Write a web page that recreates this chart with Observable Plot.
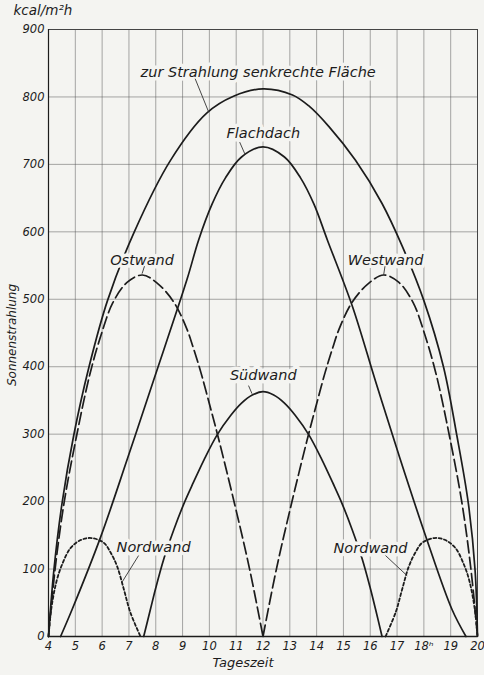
<!DOCTYPE html>
<html>
<head>
<meta charset="utf-8">
<script src="https://cdn.jsdelivr.net/npm/d3@7"></script>
<script src="https://cdn.jsdelivr.net/npm/@observablehq/plot@0.6"></script>
<style>
  html, body { margin: 0; padding: 0; background: #f4f4f1; }
  #chart { width: 484px; height: 675px; overflow: hidden; }
</style>
</head>
<body>
<div id="chart"></div>
<script>
// ---- Data (hour of day, kcal/m²h) ----
const senkrechte = [[4,0],[4.2,98],[4.51,199],[4.94,298],[5.5,398],[6.2,498],[7.2,600],[8.55,706],[9.9,776],[10.9,801],[12.0,812],[13.1,803],[13.7,787],[14.46,756],[15.45,706],[16.44,642],[17.2,578],[18.0,498],[18.73,400],[19.23,298],[19.66,197],[19.91,98],[20,0]];
const flachdach = [[4.45,0],[4.88,40],[5.94,147],[6.93,262],[7.92,380],[9.17,530],[9.6,588],[10.1,641],[10.6,680],[11.2,711],[12.0,726],[12.8,711],[13.4,680],[13.9,641],[14.4,588],[15.33,490],[16.2,378],[17.1,265],[18.1,145],[19.05,40],[19.57,0]];
const ostwand = [[4,0],[4.24,98],[4.58,198],[5.05,298],[5.55,390],[6.0,452],[6.4,495],[6.93,525],[7.5,536],[8.05,524],[8.67,496],[9.17,455],[9.4,428],[9.68,392],[10.0,345],[10.3,300],[10.95,195],[11.5,100],[12,0]];
const westwand = [[12,0],[12.5,100],[13.05,195],[13.7,300],[14.0,345],[14.32,392],[14.6,428],[14.83,455],[15.33,496],[15.95,524],[16.5,536],[17.07,525],[17.6,495],[18.0,452],[18.45,390],[18.95,298],[19.42,198],[19.76,98],[20,0]];
const suedwand = [[7.55,0],[7.8,40],[8.0,72],[8.3,115],[8.67,158],[9.04,196],[9.4,228],[9.8,262],[10.29,299],[10.8,328],[11.2,346],[11.6,358],[12.0,363],[12.4,358],[12.8,346],[13.2,328],[13.71,299],[14.2,262],[14.6,228],[14.96,196],[15.33,158],[15.7,115],[16.0,72],[16.2,40],[16.44,0]];
const nordwandMorgen = [[4,0],[4.1,40],[4.3,82],[4.5,106],[4.82,131],[5.2,143],[5.6,146],[6.06,139],[6.31,125],[6.56,104],[6.81,70],[7.05,36],[7.43,0]];
const nordwandAbend = [[16.57,0],[16.95,36],[17.19,70],[17.44,104],[17.69,125],[17.94,139],[18.4,146],[18.8,143],[19.18,131],[19.5,106],[19.7,82],[19.9,40],[20,0]];

const hourTicks = [4,5,6,7,8,9,10,11,12,13,14,15,16,17,18,19,20];
const valueTicks = [0,100,200,300,400,500,600,700,800,900];

// labels: [text, hour, value]
const labels = [
  ["zur Strahlung senkrechte Fläche", 11.82, 837],
  ["Flachdach", 12.01, 746],
  ["Ostwand", 7.49, 558],
  ["Westwand", 16.57, 558],
  ["Südwand", 12.01, 387],
  ["Nordwand", 7.92, 132],
  ["Nordwand", 16.01, 130]
];
// leader lines: [hour1, value1, hour2, value2]
const leaders = [
  [9.47, 827, 9.97, 778],
  [11.13, 733, 11.34, 714],
  [7.58, 549, 7.49, 538],
  [16.55, 549, 16.5, 536],
  [11.46, 372, 11.59, 360],
  [7.36, 120, 6.75, 81],
  [16.57, 120, 17.38, 90]
];

const bg = "#f4f4f1";
const ink = "#1c1c1c";
const toObj = a => a.map(([x, y]) => ({x, y}));
const lineOpts = {x: "x", y: "y", stroke: ink, strokeWidth: 1.7, curve: "catmull-rom"};

const chart = Plot.plot({
  width: 484,
  height: 675,
  marginLeft: 48,
  marginRight: 7,
  marginTop: 29,
  marginBottom: 39,
  style: {background: bg, fontFamily: "DejaVu Sans", fontStyle: "italic", color: ink},
  x: {domain: [4, 20]},
  y: {domain: [0, 900]},
  marks: [
    Plot.gridX(hourTicks, {stroke: "#555", strokeOpacity: 0.5, strokeWidth: 1}),
    Plot.gridY(valueTicks, {stroke: "#555", strokeOpacity: 0.5, strokeWidth: 1}),
    Plot.frame({stroke: "#444", strokeWidth: 1}),
    Plot.ruleY([0], {stroke: ink, strokeWidth: 1.6}),
    Plot.ruleX([4], {stroke: ink, strokeWidth: 1.2}),
    Plot.axisX(hourTicks, {tickSize: 0, tickPadding: 5, fontSize: 11.5, label: null,
      tickFormat: d => d === 18 ? "18ʰ" : String(d)}),
    Plot.axisY(valueTicks, {tickSize: 0, tickPadding: 4, fontSize: 11.5, label: null}),
    Plot.line(toObj(senkrechte), lineOpts),
    Plot.line(toObj(flachdach), lineOpts),
    Plot.line(toObj(suedwand), lineOpts),
    Plot.line(toObj(ostwand), {...lineOpts, strokeDasharray: "12,4.5"}),
    Plot.line(toObj(westwand), {...lineOpts, strokeDasharray: "12,4.5"}),
    Plot.line(toObj(nordwandMorgen), {...lineOpts, strokeWidth: 1.8, strokeDasharray: "3,2.4"}),
    Plot.line(toObj(nordwandAbend), {...lineOpts, strokeWidth: 1.8, strokeDasharray: "3,2.4"}),
    Plot.text(labels, {x: d => d[1], y: d => d[2], text: d => d[0], fontSize: 14.5,
      fill: ink, stroke: bg, strokeWidth: 7, fontStyle: "italic", letterSpacing: "0.7px"}),
    Plot.link(leaders, {x1: d => d[0], y1: d => d[1], x2: d => d[2], y2: d => d[3], stroke: "#333", strokeWidth: 0.9}),
    Plot.text(["kcal/m²h"], {frameAnchor: "top-left", dx: -35, dy: -15, textAnchor: "start", lineAnchor: "bottom", fontSize: 13.5, fill: ink, letterSpacing: "0.4px"}),
    Plot.text(["Sonnenstrahlung"], {frameAnchor: "left", rotate: -90, textAnchor: "middle", lineAnchor: "middle", dx: -36, dy: 2, fontSize: 12, fill: ink}),
    Plot.text(["Tageszeit"], {frameAnchor: "bottom", textAnchor: "middle", lineAnchor: "middle", dx: -20, dy: 26, fontSize: 13, fill: ink, letterSpacing: "0.4px"})
  ]
});
document.getElementById("chart").appendChild(chart);
</script>
</body>
</html>
